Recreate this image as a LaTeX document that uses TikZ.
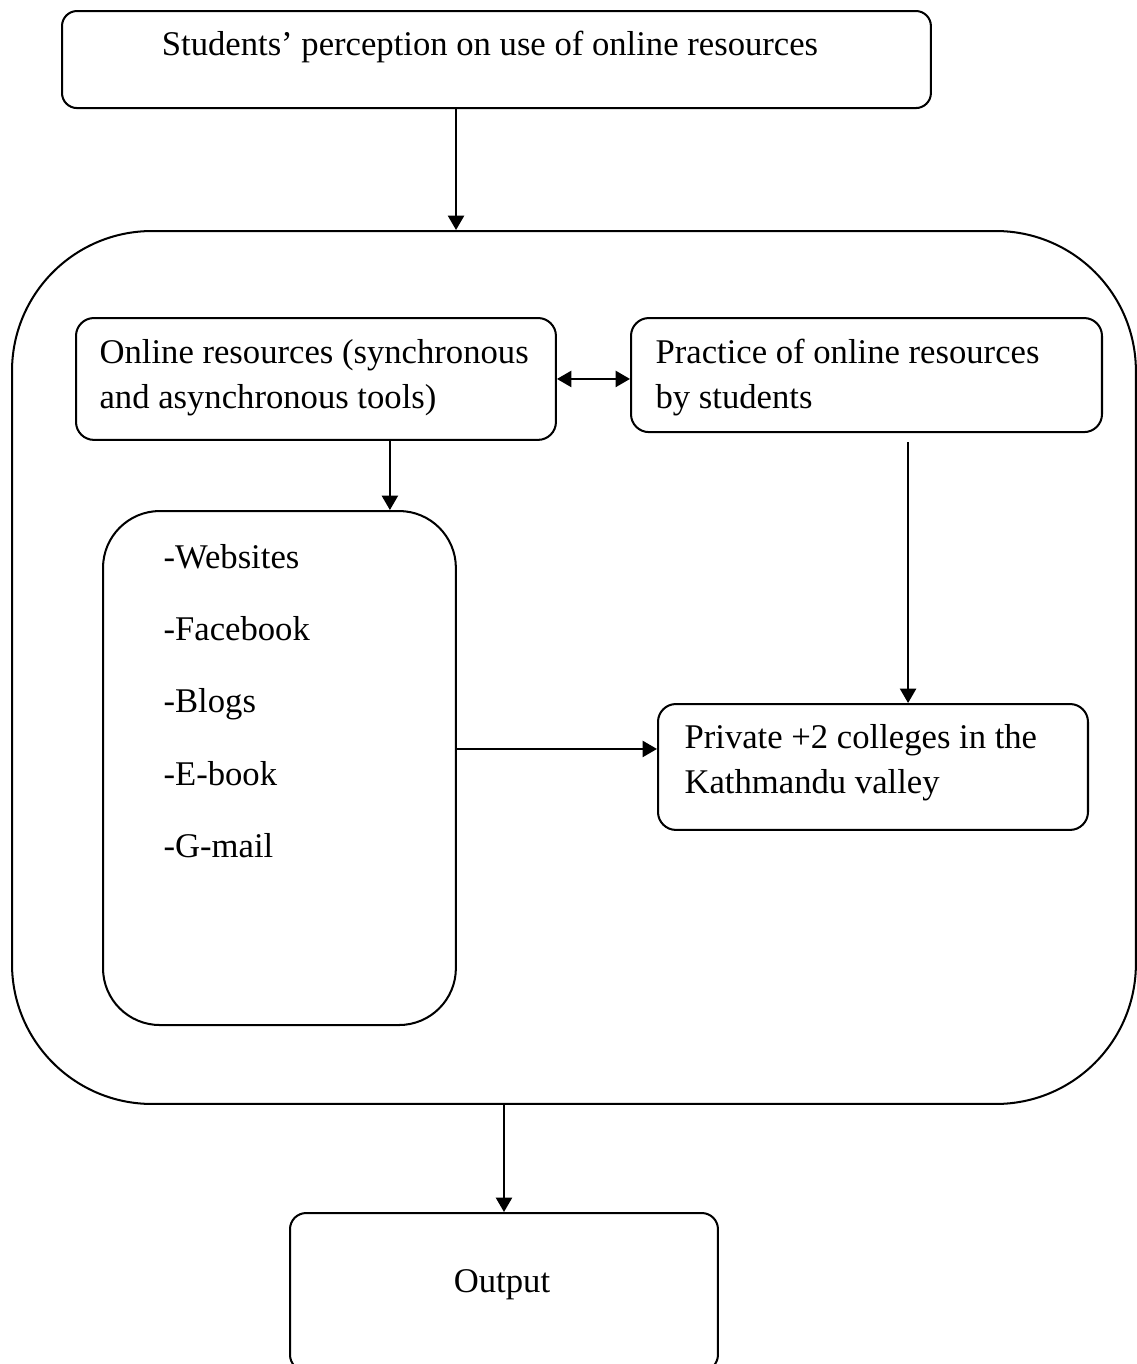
\documentclass[tikz,border=0pt]{standalone}
\usepackage{fontspec}
\setmainfont{Liberation Serif}
\usetikzlibrary{arrows.meta}
\tikzset {pointe/.tip={Triangle[length=5pt,width=5.6pt]},
          boite/.style={draw, line width=0.7pt, anchor=north west, inner sep=0pt},
          texte/.style={anchor=base west, inner sep=0pt, align=flush left, text width=#1},
          texte/.default=170pt,
          fleche/.style={-pointe, line width=0.7pt},
          fleches/.style={pointe-pointe, line width=0.7pt}}

\begin{document}
\begin{tikzpicture}[x=0.3463pt,y=-0.3463pt,font=\fontsize{12pt}{15.6pt}\selectfont]
  \useasboundingbox (0,0) rectangle (1136,1364);
  \node [boite, rounded corners=5.2pt, minimum width=300.9pt, minimum height=33.6pt]
    (titre) at (61,10) {};
  \node [boite, rounded corners=48.5pt, minimum width=389.2pt, minimum height=302.3pt]
    (cadre) at (11,230) {};
  \node [boite, rounded corners=6.2pt, minimum width=166.2pt, minimum height=42.2pt]
    (ressources) at (75,317) {};
  \node [boite, rounded corners=6.2pt, minimum width=163.1pt, minimum height=39.5pt]
    (pratique) at (630,317) {};
  \node [boite, rounded corners=19.7pt, minimum width=122.2pt, minimum height=178pt]
    (outils) at (102,510) {};
  \node [boite, rounded corners=6.2pt, minimum width=148.9pt, minimum height=43.6pt]
    (colleges) at (657,703) {};
  \node [boite, rounded corners=5.6pt, minimum width=148.2pt, minimum height=54.7pt]
    (sortie) at (289,1212) {};
  \node [anchor=base, inner sep=0pt] (titre-texte) at (490,55)
    {Students' perception on use of online resources};
  \node [texte] (ressources-texte) at (99,363)
    {Online resources (synchronous\\and asynchronous tools)};
  \node [texte] (pratique-texte) at (655,363)
    {Practice of online resources\\by students};
  \node [texte] (colleges-texte) at (684,748)
    {Private +2 colleges in the\\Kathmandu valley};
  \node [texte=80pt, font=\fontsize{12pt}{25.1pt}\selectfont] (outils-texte) at (163,568)
    {-Websites\\-Facebook\\-Blogs\\-E-book\\-G-mail};
  \node [anchor=base, inner sep=0pt] (sortie-texte) at (502,1292) {Output};
  \draw [fleche] ([xshift=-14pt]titre.south) -- ([xshift=-14pt]titre.south |- cadre.north);
  \draw [fleches] (ressources.east) -- (ressources.east -| pratique.west);
  \draw [fleche] ([xshift=25.6pt]ressources.south) -- ([xshift=25.6pt]ressources.south |- outils.north);
  \draw [fleche, shorten <=3.1pt] ([xshift=14.4pt]pratique.south) -- ([xshift=14.4pt]pratique.south |- colleges.north);
  \draw [fleche] ([yshift=6.6pt]outils.east) -- ([yshift=6.6pt]outils.east -| colleges.west);
  \draw [fleche] (cadre.south -| sortie.north) -- (sortie.north);
\end{tikzpicture}
\end{document}
